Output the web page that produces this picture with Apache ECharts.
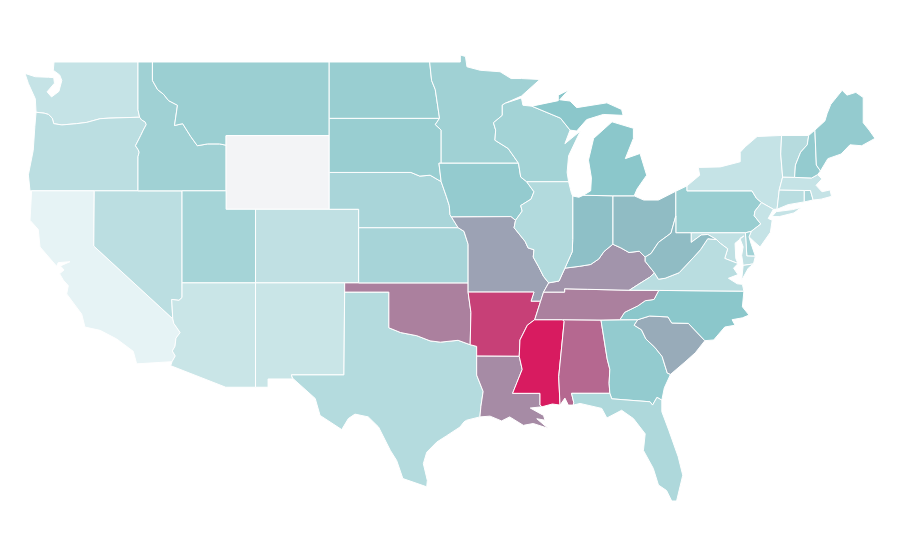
<!DOCTYPE html>
<html lang="en" style="height: 100%">
<head>
    <meta charset="utf-8">
    <title>US states</title>
</head>
<body style="height: 100%; margin: 0; background: #fff">
    <div id="container" style="width: 900px; height: 560px"></div>
    <script src="https://cdn.jsdelivr.net/npm/echarts@6/dist/echarts.min.js"></script>
    <script>
        // values, on a 0-100 scale (teal at 40). Wyoming has no value.
        const stateNames = ['California','Washington','Oregon','Nevada','Arizona','New Mexico','Utah','Colorado','Idaho','Montana','North Dakota','South Dakota','Nebraska','Kansas','Texas','Minnesota','Iowa','Wisconsin','Illinois','Michigan','Pennsylvania','New York','Virginia','North Carolina','Georgia','Florida','Vermont','New Hampshire','Maine','Massachusetts','Connecticut','Rhode Island','New Jersey','Delaware','Maryland','Indiana','Ohio','West Virginia','South Carolina','Missouri','Kentucky','Louisiana','Tennessee','Oklahoma','Alabama','Arkansas','Mississippi','Wyoming'];
        const stateValues = [0,14.5,19,19,13,13,28.5,17,31,33,34,34,27,28,22,31,36,29.5,23,40,34,14.5,20,40,36.5,24.6,21.5,36,36,14.5,20,27,14.5,30,17,42.4,44,44,50,53,58,61,65,65,73,87,100,null];
        const scaleColors = ['#e6f3f5', '#b9dde0', '#8bc7cb', '#a58ea7', '#be5484', '#d81b60'];

        // state outlines as lon/lat rings
        const columbia = [[-123.95,46.27],[-123.4,46.22],[-123.1,46.15],[-122.85,45.95],[-122.75,45.65],[-122.2,45.58],[-121.2,45.65],[-120.5,45.72],[-119.6,45.92],[-119,45.95],[-116.92,46]];
        const snake = [[-116.92,46],[-116.78,45.85],[-116.55,45.75],[-116.47,45.6],[-116.67,45.3],[-116.85,45],[-117.2,44.45],[-117.03,44.25],[-116.95,44.1],[-117.03,43.85],[-117.03,42]];
        const idMontana = [[-116.05,49],[-116.05,48],[-115.7,47.5],[-115.3,47.25],[-114.95,46.9],[-114.35,46.65],[-114.55,45.55],[-114,45.65],[-113.45,44.95],[-113,44.45],[-112.3,44.55],[-111.5,44.55],[-111.05,44.48]];
        const coloradoRiver = [[-114.67,35.05],[-114.6,34.8],[-114.17,34.3],[-114.45,34],[-114.52,33.55],[-114.7,33.3],[-114.5,33.03],[-114.72,32.72]];
        const redRiver = [[-100,34.56],[-99.2,34.3],[-98.1,34.13],[-97.2,33.85],[-96.5,33.78],[-95.3,33.88],[-94.48,33.64]];
        const ohioRiver = [[-80.52,40.64],[-80.85,39.7],[-81.7,39.2],[-82.2,38.6],[-82.6,38.4],[-83,38.72],[-83.7,38.65],[-84.25,38.9],[-84.8,39.1],[-85.4,38.7],[-85.75,38.3],[-86.3,38],[-87.05,37.9],[-88.05,37.8],[-88.45,37.1],[-89.15,37]];
        const upperMiss = [[-91.2,43.5],[-91.05,42.75],[-90.65,42.5],[-90.15,41.95],[-90.35,41.55],[-91.05,41.2],[-90.95,40.9],[-91.4,40.4],[-91.5,40],[-90.75,39.25],[-90.55,38.9],[-90.15,38.8],[-90.2,38.4],[-89.85,37.9],[-89.5,37.35],[-89.15,37]];
        const lowerMiss = [[-89.7,36],[-90.1,35],[-90.6,34.7],[-91.1,33.9],[-91.15,33.01],[-90.95,32.3],[-91.3,31.6],[-91.6,31]];
        const savannah = [[-83.1,35],[-83.35,34.7],[-82.85,34.45],[-82.55,33.95],[-81.95,33.5],[-81.45,33],[-81.1,32.1],[-80.88,32.03]];
        const ncTn = [[-81.68,36.59],[-82,36.1],[-82.6,36.03],[-83.1,35.75],[-84,35.4],[-84.32,35]];
        const carolinas = [[-83.1,35],[-82.3,35.2],[-81.05,35.15],[-80.8,34.82],[-79.67,34.8],[-78.55,33.86]];
        const vaWv = [[-77.75,39.35],[-78.35,39.4],[-78.85,38.8],[-79.3,38.4],[-80.3,37.55],[-81.25,37.25],[-81.7,37.2],[-81.97,37.54]];
        const potomac = [[-76.3,38.05],[-77.2,38.33],[-77,38.85],[-77.5,39.15],[-77.75,39.35]];
        const nyPaNj = [[-75.35,42],[-75.05,41.6],[-74.7,41.36]];
        const delaware = [[-74.7,41.36],[-75.15,40.9],[-75.2,40.65],[-74.75,40.2],[-75.4,39.8]];
        const back = a => a.slice().reverse();

        const stateShapes = {
            'Washington': [[[-117.03,49],[-122.73,49],[-122.78,48.55],[-122.35,48.3],[-122.2,48],[-122.4,47.4],[-122.9,47.1],[-123.2,47.38],[-122.7,47.85],[-122.75,48.15],[-123.1,48.17],[-124,48.2],[-124.7,48.38],[-124.47,47.83],[-124,47],...columbia,[-117.03,46.4]]],
            'Oregon': [[...columbia,...snake.slice(1),[-124.36,42],[-124.47,42.87],[-124.14,44.2],[-124.03,45.5]]],
            'California': [[[-124.25,42],[-120,42],[-120.03,39],...coloradoRiver,[-117.12,32.6],[-117.35,33.28],[-118.47,33.95],[-119.6,34.42],[-120.63,34.6],[-120.85,35.3],[-121.87,36.4],[-121.76,36.85],[-122.1,37.15],[-122.35,37.5],[-122.05,37.7],[-122.3,37.92],[-121.65,38.15],[-122.45,38.1],[-122.55,37.9],[-123.68,38.95],[-123.8,39.9],[-124.36,40.4]]],
            'Nevada': [[[-120,42],[-114.04,42],[-114.04,36.2],[-114.25,36.05],[-114.74,36.1],[-114.67,35.05],[-120.03,39]]],
            'Idaho': [[[-117.03,49],...idMontana,[-111.05,42],...back(snake),[-117.03,46.4]]],
            'Montana': [[[-116.05,49],[-104.05,49],[-104.05,45],[-111.05,45],...back(idMontana).slice(0,-1)]],
            'Wyoming': [[[-111.05,45],[-104.05,45],[-104.05,41],[-111.05,41]]],
            'Utah': [[[-114.04,42],[-111.05,42],[-111.05,41],[-109.05,41],[-109.05,37],[-114.04,37]]],
            'Colorado': [[[-109.05,41],[-102.05,41],[-102.05,37],[-109.05,37]]],
            'Arizona': [[[-114.04,37],[-109.05,37],[-109.05,31.33],[-111.07,31.33],[-114.81,32.5],...back(coloradoRiver),[-114.74,36.1],[-114.25,36.05],[-114.04,36.2]]],
            'New Mexico': [[[-109.05,37],[-103,37],[-103.05,32],[-106.62,32],[-106.53,31.78],[-108.2,31.78],[-108.2,31.33],[-109.05,31.33]]],
            'Texas': [[[-103,36.5],[-100,36.5],...redRiver,[-94.04,33.55],[-94.04,31.99],[-93.6,31.1],[-93.75,30.3],[-93.82,29.72],[-94.72,29.54],[-94.9,29.45],[-95.17,29.17],[-96.07,28.7],[-96.75,28.35],[-97.43,27.8],[-97.66,27.18],[-97.39,26.27],[-97.43,25.92],[-99.05,26.37],[-99.47,27.35],[-99.9,27.9],[-100.7,29.17],[-101.4,29.72],[-102.3,29.87],[-102.75,29.63],[-103.2,29.03],[-104.67,29.8],[-105,30.72],[-106.53,31.82],[-106.62,32],[-103.05,32]]],
            'Oklahoma': [[[-103,37],[-94.62,37],[-94.62,36.5],[-94.43,35.4],...back(redRiver),[-100,36.5],[-103,36.5]]],
            'Kansas': [[[-102.05,40],[-95.3,40],[-94.9,39.8],[-94.62,39.1],[-94.62,37],[-102.05,37]]],
            'Nebraska': [[[-104.05,43],[-98.5,43],[-97.9,42.8],[-97.2,42.85],[-96.45,42.5],[-96.1,41.7],[-95.9,41.2],[-95.85,40.7],[-95.3,40],[-102.05,40],[-102.05,41],[-104.05,41]]],
            'South Dakota': [[[-104.05,45.94],[-96.56,45.94],[-96.85,45.6],[-96.45,45.3],[-96.45,43.5],[-96.6,43.5],[-96.45,42.5],[-97.2,42.85],[-97.9,42.8],[-98.5,43],[-104.05,43]]],
            'North Dakota': [[[-104.05,49],[-97.23,49],[-97.1,48],[-96.85,47.5],[-96.56,45.94],[-104.05,45.94]]],
            'Minnesota': [[[-97.23,49],[-95.15,49],[-95.15,49.38],[-94.8,49.3],[-94.7,48.74],[-93.8,48.55],[-92.45,48.47],[-91.7,48.1],[-91,48.1],[-89.75,48.05],[-91,47.15],[-92.1,46.76],[-92.3,46.66],[-92.3,46.1],[-92.9,45.7],[-92.75,45.3],[-92.8,44.75],[-91.9,44.3],[-91.2,43.5],[-96.45,43.5],[-96.45,45.3],[-96.85,45.6],[-96.56,45.94],[-96.85,47.5],[-97.1,48]]],
            'Iowa': [[[-96.6,43.5],...upperMiss.slice(0,8),[-91.72,40.6],[-94,40.6],[-95.75,40.58],[-95.85,40.7],[-95.9,41.2],[-96.1,41.7],[-96.45,42.5]]],
            'Missouri': [[[-95.75,40.58],[-91.72,40.6],...upperMiss.slice(7),[-89.5,36.5],[-89.7,36],[-90.35,36],[-90.15,36.5],[-94.62,36.5],[-94.62,39.1],[-94.9,39.8],[-95.3,40]]],
            'Arkansas': [[[-94.62,36.5],[-90.15,36.5],[-90.35,36],...lowerMiss.slice(0,5),[-94.04,33.02],[-94.04,33.55],[-94.48,33.64],[-94.43,35.4]]],
            'Louisiana': [[[-94.04,33.02],...lowerMiss.slice(4),[-89.74,31],[-89.74,30.36],[-89.6,30.27],[-90.4,30.2],[-89.5,29.8],[-89.4,29.54],[-89.96,29.62],[-89.2,29.1],[-90.2,29.36],[-90.87,29.26],[-91.8,29.72],[-92.35,29.5],[-93.13,29.76],[-93.82,29.72],[-93.75,30.3],[-93.6,31.1],[-94.04,31.99]]],
            'Mississippi': [[[-90.1,35],[-88.2,35],[-88.1,34.9],[-88.47,31.9],[-88.38,30.36],[-88.9,30.42],[-89.6,30.27],[-89.74,30.36],[-89.74,31],...back(lowerMiss).slice(0,-2)]],
            'Alabama': [[[-88.2,35],[-85.6,34.98],[-85.18,32.87],[-85,32.3],[-85.05,31.55],[-85,31],[-87.6,31],[-87.45,30.5],[-87.48,30.36],[-87.82,30.36],[-88.05,30.74],[-88.38,30.36],[-88.47,31.9],[-88.1,34.9]]],
            'Georgia': [[[-85.6,34.98],...savannah,[-81.3,31.3],[-81.47,30.63],[-81.8,30.78],[-82.1,30.36],[-82.27,30.54],[-84.87,30.7],[-85,31],[-85.05,31.55],[-85,32.3],[-85.18,32.87]]],
            'Florida': [[[-87.6,31],[-85,31],[-84.87,30.7],[-82.27,30.54],[-82.1,30.36],[-81.8,30.78],[-81.47,30.63],[-81.47,30],[-81,29],[-80.36,27.55],[-80.05,26.55],[-80.47,25.15],[-80.8,25.15],[-81.15,25.72],[-81.7,26.02],[-82.05,26.92],[-82.72,27.9],[-82.6,28.8],[-83.4,29.63],[-84.2,30.08],[-85.2,29.66],[-85.55,30.18],[-87.02,30.45],[-87.48,30.36],[-87.45,30.5]]],
            'South Carolina': [[...carolinas,[-79.2,33.2],[-79.9,32.7],...back(savannah).slice(0,-1)]],
            'North Carolina': [[[-84.32,35],...carolinas,[-77.95,33.9],[-77.2,34.6],[-76.5,34.7],[-76.7,35],[-76,35.1],[-75.55,35.25],[-76,35.7],[-75.9,36.55],...ncTn.slice(0,-1)]],
            'Tennessee': [[[-90.1,35],[-88.2,35],[-85.6,34.98],[-84.32,35],...back(ncTn).slice(1),[-83.68,36.6],[-86.5,36.65],[-88.07,36.68],[-88.07,36.5],[-89.5,36.5],[-89.7,36]]],
            'Kentucky': [[[-89.15,37],[-89.5,36.5],[-88.07,36.5],[-88.07,36.68],[-86.5,36.65],[-83.68,36.6],[-83.1,36.9],[-82.3,37.3],[-81.97,37.54],[-82.6,38.17],...ohioRiver.slice(4)]],
            'Ohio': [[[-84.8,41.73],[-83.35,41.73],[-82.7,41.5],[-81.7,41.5],[-80.52,41.98],...ohioRiver.slice(0,9)]],
            'Indiana': [[[-87.52,41.72],[-87.1,41.65],[-86.8,41.76],[-84.8,41.73],...ohioRiver.slice(8,14),[-87.55,38.7],[-87.52,39.35]]],
            'Illinois': [[[-90.65,42.5],[-87.8,42.5],[-87.6,41.85],[-87.52,41.72],[-87.52,39.35],[-87.55,38.7],[-88.05,37.8],[-88.45,37.1],...back(upperMiss).slice(0,-2)]],
            'Wisconsin': [[[-92.1,46.76],[-91,47.05],[-90.9,46.65],[-90.3,46.6],[-88.35,45.95],[-87.7,45.3],[-88.05,44.56],[-87,45.25],[-87.8,43.9],[-87.9,43],[-87.8,42.5],[-90.65,42.5],[-91.05,42.75],[-91.2,43.5],[-91.9,44.3],[-92.8,44.75],[-92.75,45.3],[-92.9,45.7],[-92.3,46.1],[-92.3,46.66]]],
            'Michigan': [
                [[-90.3,46.6],[-88.5,46.9],[-88.5,47.2],[-87.8,47.48],[-88.4,46.95],[-87.7,46.88],[-87.25,46.52],[-85.2,46.78],[-84.2,46.42],[-84.1,46.1],[-85.45,46.15],[-86.57,45.87],[-87.25,45.25],[-87.7,45.3],[-88.35,45.95]],
                [[-84.85,45.75],[-86.1,44.85],[-86.45,43.67],[-86.25,42.7],[-86.3,42],[-86.8,41.76],[-84.8,41.73],[-83.35,41.73],[-83.15,42.1],[-82.5,42.85],[-82.95,44.03],[-83.95,43.75],[-83.4,44.85],[-83.4,45.4]]
            ],
            'Pennsylvania': [[[-80.52,41.98],[-79.76,42.27],[-79.76,42],...nyPaNj,...delaware.slice(1),[-75.8,39.72],[-80.52,39.72]]],
            'New York': [
                [[-79.76,42.27],[-79.76,42],...nyPaNj,[-73.9,41],[-73.65,41],[-73.5,42.05],[-73.27,42.75],[-73.4,44],[-73.34,45.01],[-75,44.95],[-75.8,44.4],[-76.15,44.1],[-76.15,43.58],[-77.5,43.3],[-79,43.27],[-78.9,42.85]],
                [[-74,40.6],[-73.7,40.87],[-72.6,40.98],[-72,41.1],[-72.5,40.8],[-73.5,40.6]]
            ],
            'New Jersey': [[...delaware,[-75.55,39.5],[-75.15,39.2],[-74.8,38.95],[-74.1,39.75],[-73.98,40.4],[-74.25,40.5],[-73.9,41]]],
            'Delaware': [[[-75.8,39.72],[-75.4,39.8],[-75.55,39.5],[-75.4,39.1],[-75.12,38.45],[-75.7,38.46]]],
            'Maryland': [[[-79.48,39.72],[-75.8,39.72],[-75.7,38.46],[-75.12,38.45],[-75.25,38.03],[-75.95,37.95],[-76.05,38.5],[-75.95,38.96],[-76.17,39.42],[-75.9,39.55],[-76.5,39.15],[-76.45,38.33],...potomac,[-78.35,39.63],[-78.8,39.6],[-79.48,39.2]]],
            'Virginia': [
                [[-83.68,36.6],[-81.68,36.59],[-75.9,36.55],[-76,36.92],[-76.35,36.95],[-76.95,37.25],[-76.3,37.45],[-76.6,37.8],...potomac,...vaWv.slice(1),[-82.3,37.3],[-83.1,36.9]],
                [[-75.25,38.03],[-75.95,37.95],[-76.05,37.15],[-75.6,37.8]]
            ],
            'West Virginia': [[[-80.52,40.64],[-80.52,39.72],[-79.48,39.72],[-79.48,39.2],[-78.8,39.6],[-78.35,39.63],...vaWv,[-82.6,38.17],[-82.6,38.4],[-82.2,38.6],[-81.7,39.2],[-80.85,39.7]]],
            'Connecticut': [[[-73.5,42.05],[-71.8,42.02],[-71.8,41.4],[-72.9,41.25],[-73.65,41]]],
            'Rhode Island': [[[-71.8,42.02],[-71.38,42.02],[-71.2,41.5],[-71.8,41.4]]],
            'Massachusetts': [[[-73.5,42.05],[-73.27,42.75],[-72.46,42.73],[-71.3,42.7],[-70.9,42.88],[-70.6,42.65],[-71,42.3],[-70.6,41.95],[-70.05,42.05],[-69.95,41.7],[-70.65,41.55],[-71.2,41.5],[-71.38,42.02],[-71.8,42.02]]],
            'Vermont': [[[-73.34,45.01],[-71.5,45.01],[-71.6,44.5],[-72.05,44.1],[-72.4,43.4],[-72.46,42.73],[-73.27,42.75],[-73.4,44]]],
            'New Hampshire': [[[-71.5,45.01],[-71.08,45.3],[-70.98,43.4],[-70.7,43.08],[-70.9,42.88],[-71.3,42.7],[-72.46,42.73],[-72.4,43.4],[-72.05,44.1],[-71.6,44.5]]],
            'Maine': [[[-71.08,45.3],[-70.4,45.8],[-70.25,46.2],[-70,46.7],[-69.23,47.46],[-68.9,47.2],[-68.3,47.35],[-67.8,47.07],[-67.8,45.7],[-67.4,45.3],[-67,44.85],[-67.9,44.45],[-68.7,44.5],[-69.3,44],[-70.2,43.75],[-70.7,43.08],[-70.98,43.4]]]
        };

        const usaGeo = {
            type: 'FeatureCollection',
            features: Object.keys(stateShapes).map(name => ({
                type: 'Feature',
                properties: { name: name },
                geometry: {
                    type: 'MultiPolygon',
                    coordinates: stateShapes[name].map(ring => [ring.concat([ring[0]])])
                }
            }))
        };
        echarts.registerMap('USA', usaGeo);

        var myChart = echarts.init(document.getElementById('container'), null, { renderer: 'canvas' });

        let option = {
            backgroundColor: '#fff',
            animation: false,
            visualMap: {
                show: false,
                type: 'continuous',
                min: 0,
                max: 100,
                seriesIndex: 0,
                inRange: { color: scaleColors }
            },
            series: [{
                type: 'map',
                map: 'USA',
                aspectScale: 0.8,
                left: 25,
                top: 55,
                width: 850,
                height: 446,
                silent: true,
                label: { show: false },
                itemStyle: { borderColor: '#fff', borderWidth: 1, areaColor: '#f3f4f6' },
                data: stateNames.map((n, i) => ({ name: n, value: stateValues[i] }))
            }]
        };
        myChart.setOption(option);
    </script>
</body>
</html>
